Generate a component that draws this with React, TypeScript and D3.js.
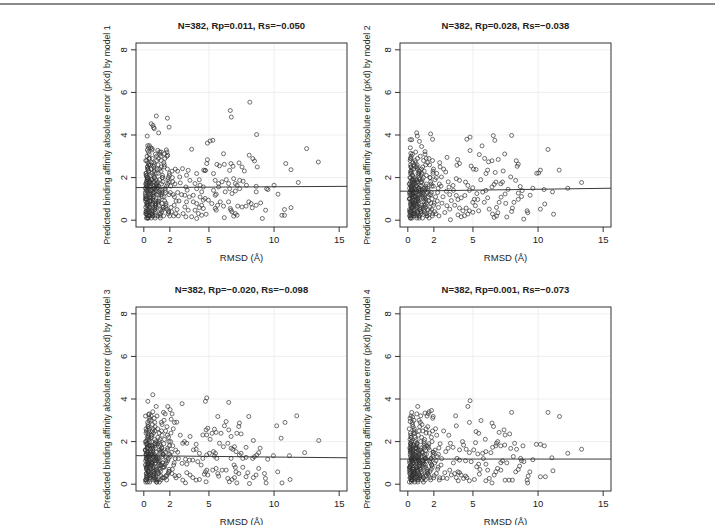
import React from "react";
import * as d3 from "d3";

// axis ticks and panel titles
const xTicks = [0, 2, 5, 10, 15];
const yTicks = [0, 2, 4, 6, 8];
const gridX = [5, 10];
const gridY = [2, 4, 6, 8];
const titles = [
  "N=382, Rp=0.011, Rs=\u22120.050",
  "N=382, Rp=0.028, Rs=\u22120.038",
  "N=382, Rp=\u22120.020, Rs=\u22120.098",
  "N=382, Rp=0.001, Rs=\u22120.073",
];
// fitted line
const fitIntercept = [1.532, 1.365, 1.336, 1.18];
const fitSlope = [0.0037, 0.0087, -0.0062, 0];

// dense cluster of low-RMSD poses, shared by all four models
const clusterRmsd = [
  0.12, 0.18, 0.21, 0.25, 0.31, 0.15, 0.22, 0.28, 0.35, 0.41,
  0.19, 0.24, 0.33, 0.45, 0.14, 0.27, 0.38, 0.2, 0.3, 0.47,
  0.16, 0.23, 0.29, 0.36, 0.43, 0.11, 0.26, 0.32, 0.39, 0.48,
  0.17, 0.21, 0.34, 0.42, 0.13, 0.25, 0.37, 0.44, 0.19, 0.28,
  0.22, 0.31, 0.46, 0.15, 0.24, 0.35, 0.4, 0.18, 0.27, 0.33,
  0.12, 0.2, 0.29, 0.38, 0.49, 0.16, 0.23, 0.32, 0.41, 0.26,
  0.14, 0.3, 0.36, 0.44, 0.21, 0.19, 0.34, 0.47, 0.25, 0.39,
  0.13, 0.22, 0.28, 0.43, 0.17, 0.31, 0.37, 0.24, 0.45, 0.2,
  0.15, 0.27, 0.35, 0.42, 0.18, 0.29, 0.33, 0.4, 0.23, 0.48,
  0.52, 0.58, 0.63, 0.71, 0.77, 0.84, 0.91, 0.97, 0.55, 0.6,
  0.66, 0.73, 0.8, 0.88, 0.94, 0.53, 0.62, 0.69, 0.75, 0.82,
  0.9, 0.99, 0.57, 0.64, 0.7, 0.78, 0.86, 0.93, 0.51, 0.59,
  0.67, 0.74, 0.81, 0.89, 0.96, 0.54, 0.61, 0.68, 0.76, 0.83,
  0.92, 0.56, 0.65, 0.72, 0.79, 0.87, 0.95, 0.5, 0.63, 0.7,
  0.77, 0.85, 0.98, 0.58, 0.66, 0.74, 0.82, 0.9, 0.53, 0.61,
  0.69, 0.78, 0.86, 0.94, 0.57, 0.65, 0.72, 0.8, 0.88, 0.96,
  1.02, 1.08, 1.15, 1.21, 1.28, 1.35, 1.42, 1.48, 1.05, 1.12,
  1.18, 1.25, 1.32, 1.39, 1.45, 1.01, 1.09, 1.16, 1.23, 1.3,
  1.37, 1.44, 1.06, 1.13, 1.2, 1.27, 1.34, 1.41, 1.49, 1.04,
  1.11, 1.19, 1.26, 1.33, 1.4, 1.47, 1.07, 1.14, 1.22, 1.29,
  1.36, 1.43, 1.1, 1.24, 1.38,
  1.52, 1.58, 1.65, 1.71, 1.78, 1.84, 1.91, 1.97, 1.55, 1.62,
  1.68, 1.75, 1.81, 1.88, 1.94, 1.53, 1.6, 1.67, 1.73, 1.8,
  1.86, 1.93, 1.99, 1.57, 1.64, 1.7, 1.77, 1.83, 1.9, 1.96,
  2.03, 2.09, 2.16, 2.22, 2.29, 2.35, 2.42, 2.48, 2.06, 2.13,
  2.19, 2.26, 2.33, 2.39, 2.45,
];

const clusterErr1 = [
  1.2, 0.4, 2.1, 1.6, 0.1, 2.8, 1.0, 0.7, 1.9, 3.1,
  0.3, 1.4, 2.4, 0.9, 1.7, 0.2, 2.6, 1.1, 0.5, 1.8,
  2.2, 0.8, 1.3, 3.4, 0.6, 1.5, 2.0, 0.1, 2.9, 1.2,
  0.4, 1.6, 2.3, 0.9, 1.0, 3.0, 0.2, 1.8, 1.4, 2.5,
  0.7, 2.7, 1.1, 0.3, 1.9, 1.5, 0.5, 2.1, 3.3, 0.8,
  1.3, 0.1, 2.4, 1.7, 0.6, 1.0, 2.8, 0.4, 1.6, 2.0,
  0.9, 3.5, 1.2, 0.2, 1.8, 2.2, 0.7, 1.4, 0.3, 2.6,
  1.1, 0.5, 1.9, 2.9, 1.5, 0.1, 2.3, 0.8, 1.3, 1.7,
  0.6, 2.0, 3.2, 0.4, 1.0, 2.5, 1.4, 0.2, 1.8, 0.9,
  1.6, 0.3, 2.2, 1.1, 2.7, 0.6, 1.4, 3.0, 0.9, 1.9,
  0.2, 1.3, 2.4, 0.7, 1.7, 3.4, 0.4, 1.0, 2.1, 1.5,
  0.8, 2.8, 0.1, 1.8, 1.2, 2.3, 0.5, 1.6, 2.6, 0.3,
  1.4, 0.9, 2.0, 3.1, 0.6, 1.1, 1.9, 0.2, 2.5, 1.3,
  0.7, 1.7, 2.9, 0.4, 1.5, 0.1, 2.2, 1.0, 3.3, 0.8,
  1.8, 0.5, 1.2, 2.4, 0.3, 1.6, 2.0, 0.9, 1.4, 2.7,
  0.6, 1.1, 0.2, 1.9, 2.1, 0.7, 1.3, 2.6, 0.4, 1.5,
  2.4, 0.8, 1.6, 3.2, 0.3, 1.2, 2.0, 0.6, 1.8, 2.9,
  1.0, 0.2, 2.3, 1.4, 0.5, 1.7, 2.6, 0.9, 1.3, 3.0,
  0.4, 2.1, 1.5, 0.7, 1.9, 0.1, 2.5, 1.1, 0.6, 1.6,
  2.2, 0.3, 1.4, 2.8, 0.8, 1.8, 0.2, 1.2, 2.4, 0.5,
  1.7, 2.0, 0.9, 3.1, 1.3,
  0.2, 2.6, 1.4, 0.7, 3.2, 1.9, 0.4, 2.2, 1.1, 2.9,
  0.6, 1.6, 2.4, 0.3, 1.8, 2.7, 0.9, 1.3, 3.3, 0.5,
  2.0, 1.2, 0.2, 2.5, 1.5, 0.8, 3.0, 1.7, 0.4, 2.1,
  1.3, 0.6, 2.3, 1.8, 0.2, 1.1, 2.4, 0.9, 1.6, 0.4,
  2.0, 1.2, 0.7, 1.7, 0.3,
];

const clusterErr2 = [
  1.0, 0.3, 1.8, 2.5, 0.6, 1.3, 0.1, 2.2, 1.6, 0.8,
  2.9, 0.4, 1.1, 1.9, 0.2, 1.5, 2.7, 0.7, 1.2, 0.5,
  2.0, 1.4, 0.9, 3.1, 0.3, 1.7, 2.3, 0.6, 1.0, 1.8,
  0.2, 2.6, 1.3, 0.8, 1.5, 0.4, 2.1, 1.1, 3.4, 0.7,
  1.6, 0.1, 2.4, 1.2, 0.5, 1.9, 0.9, 2.8, 1.4, 0.3,
  1.0, 2.2, 0.6, 1.7, 0.2, 1.3, 2.5, 0.8, 1.5, 3.0,
  0.4, 1.1, 1.8, 0.7, 2.0, 0.1, 1.4, 2.6, 0.9, 1.2,
  0.5, 2.3, 1.6, 0.3, 1.0, 1.9, 0.6, 2.9, 1.3, 0.8,
  1.7, 0.2, 2.1, 1.1, 0.4, 1.5, 2.4, 0.7, 1.2, 0.3,
  1.4, 2.7, 0.5, 1.0, 1.8, 0.2, 2.3, 1.3, 0.8, 3.2,
  1.6, 0.4, 1.1, 2.0, 0.6, 1.5, 2.5, 0.1, 1.2, 0.9,
  1.9, 0.3, 2.8, 1.4, 0.7, 1.0, 2.2, 0.5, 1.7, 1.3,
  0.2, 2.4, 0.8, 1.5, 3.0, 0.4, 1.1, 1.9, 0.6, 2.1,
  1.2, 0.3, 1.6, 2.6, 0.9, 0.1, 1.4, 2.0, 0.7, 1.8,
  1.0, 2.3, 0.4, 1.3, 0.8, 2.9, 1.5, 0.2, 1.1, 1.7,
  0.6, 2.2, 1.2, 0.5, 1.9, 0.9, 2.5, 0.3, 1.4, 1.6,
  2.1, 0.7, 1.3, 2.8, 0.4, 1.0, 1.7, 0.2, 2.4, 1.2,
  0.6, 1.5, 3.1, 0.9, 0.3, 1.8, 2.2, 1.1, 0.5, 1.4,
  2.6, 0.8, 1.6, 0.1, 2.0, 1.2, 0.7, 2.9, 1.3, 0.4,
  1.9, 1.0, 2.3, 0.6, 1.5, 0.2, 1.8, 2.5, 0.9, 1.1,
  0.3, 2.1, 1.4, 0.7, 1.6,
  2.7, 0.5, 1.2, 2.0, 0.8, 1.6, 0.3, 2.4, 1.1, 2.9,
  0.6, 1.8, 1.3, 0.2, 2.2, 1.5, 0.9, 2.6, 0.4, 1.7,
  1.0, 2.3, 0.7, 1.4, 0.1, 2.0, 1.2, 0.5, 2.8, 1.6,
  0.8, 1.9, 0.3, 2.2, 1.3, 0.6, 1.7, 2.5, 0.4, 1.1,
  2.0, 0.9, 1.5, 0.2, 2.7,
];

const clusterErr3 = [
  0.9, 2.0, 0.4, 1.5, 2.7, 0.2, 1.2, 1.8, 0.6, 3.0,
  1.4, 0.8, 2.3, 0.1, 1.1, 1.7, 0.5, 2.5, 1.3, 0.3,
  1.9, 0.7, 2.9, 1.0, 0.4, 1.6, 2.2, 0.9, 1.2, 0.2,
  2.6, 1.4, 0.6, 1.8, 3.2, 0.3, 1.1, 2.0, 0.8, 1.5,
  0.5, 2.4, 1.3, 0.1, 1.7, 0.9, 2.1, 1.2, 0.4, 2.8,
  1.6, 0.7, 1.0, 2.5, 0.3, 1.4, 1.9, 0.6, 3.3, 1.1,
  0.2, 1.7, 2.2, 0.8, 1.3, 0.5, 2.7, 1.0, 1.5, 0.4,
  2.0, 1.2, 0.1, 1.8, 2.4, 0.7, 1.4, 0.9, 3.1, 0.3,
  1.6, 2.1, 0.6, 1.1, 0.2, 1.9, 1.3, 2.6, 0.8, 1.5,
  0.4, 2.3, 1.0, 1.7, 0.6, 2.9, 1.2, 0.2, 1.8, 1.4,
  2.5, 0.7, 1.1, 0.3, 2.0, 1.6, 0.9, 3.4, 1.3, 0.5,
  1.9, 0.1, 2.2, 1.0, 1.5, 0.8, 2.7, 0.4, 1.2, 1.7,
  0.6, 2.4, 1.4, 0.2, 1.1, 3.0, 0.9, 1.6, 0.5, 2.1,
  1.3, 0.7, 1.8, 2.6, 0.3, 1.0, 1.5, 0.8, 2.3, 1.2,
  0.4, 1.9, 0.1, 1.4, 2.8, 0.6, 1.1, 1.7, 0.9, 2.0,
  1.3, 0.2, 2.5, 0.7, 1.5, 1.0, 0.4, 3.1, 1.8, 0.8,
  1.2, 2.2, 0.5, 1.6, 0.9, 2.9, 0.3, 1.4, 1.9, 0.7,
  2.4, 1.1, 0.2, 1.7, 1.3, 3.2, 0.6, 1.0, 2.1, 0.4,
  1.5, 0.8, 2.6, 1.2, 0.1, 1.8, 0.9, 2.3, 1.4, 0.5,
  1.1, 2.0, 0.7, 1.6, 2.8, 0.3, 1.3, 0.9, 1.9, 0.6,
  2.5, 1.0, 0.2, 1.5, 1.7,
  0.8, 2.1, 1.3, 0.4, 2.7, 1.1, 0.6, 1.8, 3.0, 0.9,
  1.5, 0.2, 2.3, 1.2, 0.7, 1.9, 0.3, 2.5, 1.0, 1.6,
  0.5, 2.0, 1.4, 0.8, 3.3, 1.1, 0.4, 1.7, 2.2, 0.6,
  1.3, 2.4, 0.5, 1.8, 0.9, 2.9, 1.2, 0.3, 2.0, 1.5,
  0.7, 2.6, 1.0, 0.4, 1.6,
];

const clusterErr4 = [
  0.7, 1.6, 0.3, 2.2, 1.1, 0.5, 1.8, 0.2, 2.9, 1.3,
  0.8, 1.5, 0.4, 2.4, 1.0, 0.1, 1.7, 0.6, 1.2, 3.0,
  0.3, 1.9, 0.9, 1.4, 0.5, 2.6, 1.1, 0.2, 1.6, 0.7,
  2.1, 1.3, 0.4, 1.8, 0.8, 3.2, 1.0, 0.6, 1.5, 0.2,
  2.3, 1.2, 0.5, 1.7, 0.9, 0.3, 2.7, 1.4, 0.7, 1.1,
  0.1, 1.9, 1.2, 0.4, 2.5, 0.8, 1.6, 0.3, 1.0, 2.0,
  0.6, 1.3, 2.8, 0.5, 1.7, 0.9, 0.2, 1.4, 2.2, 0.7,
  1.1, 0.4, 1.8, 1.2, 3.1, 0.6, 1.5, 0.3, 1.0, 2.4,
  0.8, 1.6, 0.2, 1.3, 0.5, 2.0, 1.1, 0.7, 1.9, 0.4,
  1.2, 0.3, 2.1, 0.8, 1.5, 0.5, 2.7, 1.0, 0.2, 1.7,
  1.3, 0.6, 2.3, 0.9, 1.4, 0.1, 1.8, 3.3, 0.7, 1.1,
  0.4, 1.6, 2.0, 0.8, 1.2, 0.3, 2.5, 1.0, 0.6, 1.5,
  1.9, 0.2, 1.3, 0.9, 2.9, 0.5, 1.1, 1.7, 0.4, 1.4,
  0.7, 2.2, 1.0, 0.3, 1.6, 1.2, 0.8, 2.6, 0.5, 1.8,
  0.1, 1.3, 2.0, 0.9, 1.5, 0.6, 1.1, 0.3, 2.4, 1.7,
  0.7, 1.2, 3.0, 0.4, 1.4, 0.8, 1.9, 0.2, 1.0, 1.6,
  1.3, 0.5, 2.5, 0.9, 1.7, 0.2, 1.1, 3.2, 0.6, 1.5,
  0.8, 2.0, 1.2, 0.4, 1.8, 0.7, 2.8, 1.0, 0.3, 1.4,
  1.6, 0.6, 2.2, 1.1, 0.1, 1.3, 0.9, 2.4, 0.5, 1.7,
  1.0, 0.3, 1.9, 1.2, 2.6, 0.7, 1.5, 0.4, 1.1, 2.1,
  0.8, 1.4, 0.2, 1.8, 1.2,
  0.6, 1.7, 2.4, 0.3, 1.2, 0.9, 3.1, 1.5, 0.5, 1.9,
  1.1, 0.2, 2.2, 0.8, 1.4, 2.7, 0.4, 1.6, 1.0, 0.7,
  2.0, 1.3, 0.3, 1.8, 3.4, 0.6, 1.2, 0.9, 2.5, 1.5,
  0.4, 1.6, 1.1, 2.3, 0.7, 1.4, 0.2, 1.9, 1.0, 2.6,
  0.5, 1.3, 0.8, 1.7, 0.3,
];

// individually readable points: [RMSD, absolute error]
const spread1 = [
  [0.26, 3.95], [0.57, 4.53], [0.7, 4.45], [0.75, 4.35], [0.8, 4.3], [0.96, 4.89], [1.14, 4.1],
  [1.81, 4.79], [1.94, 4.37], [0.43, 3.5], [0.64, 3.36], [1.07, 3.28], [1.33, 3.2], [1.59, 3.12],
  [1.84, 3.05],
  [2.97, 2.42], [2.76, 2.03], [3.02, 0.31], [3.15, 1.17], [3.15, 0.62], [3.23, 1.56], [3.23, 0.16],
  [3.28, 2.11], [3.28, 0.86], [3.33, 1.41], [3.41, 2.34], [3.41, 0.47], [3.49, 1.09], [2.6, 1.3],
  [2.7, 0.9], [2.55, 0.5], [2.65, 0.2], [2.8, 1.75], [2.9, 1.2], [2.6, 2.3],
  [3.54, 1.87], [3.67, 3.33], [3.67, 0.16], [3.8, 1.17], [3.8, 0.86], [3.93, 1.72], [3.93, 0.47],
  [4.06, 2.19], [4.06, 1.48], [4.06, 0.78], [4.06, 0.08], [4.19, 0.31], [4.26, 1.9], [4.26, 0.59],
  [4.32, 1.64], [4.32, 1.09], [4.44, 1.33], [4.44, 0.7], [4.44, 0.23], [4.57, 1.56], [4.57, 0.94],
  [4.57, 0.55], [4.6, 2.35], [4.7, 2.33], [4.7, 1.02], [4.73, 2.34], [4.78, 0.28], [4.83, 2.66],
  [4.88, 2.84], [4.88, 3.62], [4.96, 0.94],
  [5.09, 3.72], [5.22, 0.78], [5.3, 3.75], [5.35, 2.19], [5.35, 1.4], [5.48, 1.87], [5.48, 1.17],
  [5.48, 0.55], [5.56, 1.22], [5.56, 0.47], [5.61, 2.62], [5.66, 0.7], [5.74, 1.72], [5.74, 1.56],
  [5.81, 2.55], [5.87, 0.86], [6.0, 1.8], [6.12, 3.12], [6.12, 0.66], [6.18, 2.62], [6.18, 0.12],
  [6.25, 1.33], [6.33, 1.9], [6.51, 1.72], [6.51, 0.86], [6.59, 2.34], [6.59, 1.48], [6.64, 0.55],
  [6.64, 5.15], [6.69, 2.66], [6.69, 0.47], [6.72, 4.84], [6.77, 1.25], [6.77, 0.39], [6.85, 2.53],
  [6.9, 1.95], [6.9, 0.19],
  [7.03, 1.72], [7.03, 1.37], [7.03, 0.31], [7.16, 1.64], [7.16, 0.23], [7.21, 0.66], [7.31, 2.69],
  [7.36, 1.87], [7.36, 1.48], [7.54, 2.5], [7.54, 0.62], [7.62, 1.83], [7.72, 2.31], [7.85, 0.66],
  [7.88, 1.64], [8.06, 0.86], [8.09, 3.05], [8.14, 5.54], [8.24, 0.78], [8.32, 0.58], [8.37, 2.89],
  [8.5, 2.78], [8.63, 1.59], [8.63, 1.33], [8.63, 0.7], [8.66, 4.02], [8.71, 2.5], [8.97, 0.81],
  [9.1, 0.08], [9.35, 0.47], [9.43, 1.48], [9.53, 1.44], [10.0, 1.64], [10.3, 1.22], [10.6, 0.23],
  [10.8, 0.5], [10.8, 0.23], [10.9, 2.66], [11.3, 2.37], [11.3, 0.59], [11.86, 1.77], [12.5, 3.36],
  [13.4, 2.73],
];

const spread2 = [
  [0.68, 4.1], [0.73, 3.95], [1.75, 4.05], [1.9, 3.8], [0.18, 3.78], [0.3, 3.78], [0.89, 3.7],
  [1.06, 3.46], [1.32, 3.22], [0.23, 3.14],
  [4.53, 3.8], [4.78, 3.9], [6.56, 3.97], [6.68, 3.75], [7.97, 3.98], [5.7, 3.49], [5.49, 3.08],
  [4.78, 3.27], [7.44, 3.11], [3.82, 2.85], [3.97, 2.66], [3.77, 2.58], [4.86, 2.54], [5.04, 2.4],
  [5.24, 2.38], [6.13, 2.35], [6.0, 2.19], [6.2, 2.74], [6.46, 2.79], [6.94, 2.85], [6.71, 2.24],
  [7.32, 2.31], [8.33, 2.79], [8.48, 2.63], [8.4, 2.53], [10.05, 2.22], [10.18, 2.35], [10.76, 3.32],
  [11.62, 2.35], [13.34, 1.77], [12.28, 1.5], [10.46, 1.44], [11.11, 1.33], [10.51, 0.76],
  [10.18, 0.52], [11.19, 0.28], [9.16, 0.44], [9.21, 0.35], [9.39, 1.17], [8.78, 1.39], [8.63, 1.58],
  [8.48, 1.27], [8.73, 1.11], [8.48, 0.98], [8.15, 0.84], [8.03, 0.57], [7.97, 0.41], [8.28, 1.87],
  [7.9, 2.03], [7.47, 1.23], [7.16, 1.08], [7.01, 0.84], [7.52, 0.79], [6.81, 0.6], [6.91, 0.35],
  [6.81, 0.2], [6.63, 0.13], [6.5, 0.29], [6.63, 1.68], [6.76, 1.79], [7.14, 1.71], [7.27, 1.79],
  [6.46, 1.56], [6.0, 1.4], [5.75, 1.32], [6.13, 1.05], [5.87, 0.84], [6.25, 0.52], [5.37, 0.97],
  [5.11, 0.98], [4.99, 0.84], [5.19, 0.68], [5.44, 0.44], [4.99, 0.37], [4.73, 0.44], [4.48, 0.57],
  [4.61, 0.29], [4.35, 0.21], [4.1, 0.16], [3.85, 0.25], [4.23, 0.44], [3.97, 0.57], [3.85, 0.97],
  [4.1, 1.05], [3.72, 1.16], [4.38, 1.16], [4.73, 1.4], [4.99, 1.52], [4.61, 1.63], [4.43, 1.79],
  [3.97, 1.87], [3.72, 1.95], [3.47, 1.63], [3.16, 1.55], [2.96, 1.36], [3.22, 1.2], [3.34, 0.92],
  [3.0, 0.68], [3.22, 0.52], [2.84, 0.36], [3.27, 0.02], [2.91, 2.26], [3.01, 2.95], [2.58, 2.03],
  [2.7, 1.1], [2.62, 0.8], [2.75, 2.4], [3.1, 1.8], [2.55, 1.6], [5.6, 1.9], [5.3, 1.25], [5.9, 2.9],
  [7.7, 1.45], [9.6, 1.5], [9.9, 2.2], [8.9, 0.05], [7.6, 0.15], [3.5, 1.4], [3.6, 0.7],
];

const spread3 = [
  [0.69, 4.2], [0.31, 3.89], [0.95, 3.65], [1.84, 3.65], [2.02, 3.5], [2.17, 3.3], [1.51, 3.37],
  [0.38, 3.26], [0.56, 3.21], [2.1, 3.05],
  [2.53, 2.91], [2.94, 3.78], [4.02, 1.87], [3.81, 1.61], [4.02, 1.64], [2.99, 1.92], [3.12, 2.0],
  [3.3, 1.92], [3.55, 2.24], [4.73, 3.89], [4.83, 4.05], [6.52, 3.84], [5.68, 3.18], [8.06, 3.18],
  [11.74, 3.21], [10.84, 2.9], [10.2, 2.74], [10.54, 2.16], [13.43, 2.05], [12.35, 1.48],
  [11.18, 1.34], [9.95, 1.34], [9.51, 1.17], [8.93, 1.69], [8.82, 1.48], [8.67, 1.37], [8.41, 2.05],
  [7.85, 1.73], [7.34, 1.37], [6.7, 2.24], [6.52, 2.55], [6.32, 2.94], [6.19, 2.74], [5.93, 2.39],
  [7.14, 2.39], [7.34, 2.87], [7.47, 2.36], [7.29, 2.71], [5.81, 1.92], [6.11, 1.76], [6.45, 1.92],
  [6.7, 1.69], [6.96, 1.76], [6.83, 1.64], [7.08, 1.53], [7.47, 1.45], [5.24, 2.39], [5.55, 2.43],
  [4.83, 2.31], [4.53, 2.31], [4.91, 2.63], [4.78, 2.55], [5.09, 2.11], [5.42, 2.58], [4.83, 1.37],
  [5.04, 1.45], [5.35, 1.53], [5.42, 1.32], [5.6, 1.21], [5.5, 1.45], [4.27, 1.45], [4.53, 1.21],
  [4.14, 1.06], [3.76, 1.13], [3.5, 1.13], [3.2, 1.17], [3.3, 0.94], [2.94, 0.98], [4.4, 0.9],
  [4.73, 0.58], [4.83, 0.66], [4.65, 0.47], [4.91, 0.43], [4.78, 0.11], [4.27, 0.22], [4.02, 0.19],
  [3.76, 0.31], [3.55, 0.43], [3.3, 0.54], [2.99, 0.19], [3.2, 0.06], [5.29, 0.66], [5.68, 0.5],
  [5.75, 0.38], [5.55, 0.74], [6.01, 0.66], [6.32, 0.66], [6.45, 0.27], [6.78, 0.22], [6.96, 0.31],
  [7.08, 0.58], [7.03, 0.79], [6.93, 0.9], [7.29, 0.5], [6.57, 0.11], [7.14, 0.06], [7.6, 0.79],
  [7.98, 0.54], [7.85, 0.35], [8.11, 0.03], [8.41, 0.31], [8.62, 0.43], [8.82, 0.74], [9.26, 0.5],
  [9.34, 0.27], [9.39, 0.06], [10.28, 0.58], [10.61, 0.06], [11.23, 0.22], [8.36, 1.21], [8.49, 1.29],
  [7.85, 1.26], [7.6, 1.21], [6.7, 1.21], [2.6, 1.5], [2.7, 0.4], [2.8, 2.3], [2.65, 1.2],
];

const spread4 = [
  [0.76, 3.65], [0.3, 3.37], [0.99, 3.21], [1.32, 3.34], [1.57, 3.31], [1.82, 3.46], [1.95, 3.18],
  [0.38, 3.15], [0.18, 2.94],
  [4.78, 3.92], [4.61, 3.65], [3.72, 2.74], [3.67, 3.21], [4.73, 2.9], [5.62, 2.99], [5.95, 2.11],
  [5.24, 2.47], [5.44, 2.39], [6.46, 2.87], [6.58, 2.71], [7.01, 2.43], [7.39, 2.55], [7.47, 2.31],
  [7.82, 2.36], [7.97, 3.37], [10.76, 3.37], [11.65, 3.18], [8.2, 1.92], [8.35, 1.64], [8.84, 1.8],
  [7.9, 1.68], [7.44, 1.84], [7.14, 1.8], [6.81, 1.92], [6.76, 1.8], [6.51, 1.73], [6.38, 1.48],
  [5.99, 1.53], [5.75, 1.45], [5.37, 1.42], [5.06, 1.61], [4.73, 1.48], [4.48, 1.64], [4.28, 1.84],
  [3.97, 1.61], [3.47, 1.73], [3.27, 1.92], [3.09, 1.69], [2.91, 1.53], [3.77, 1.21], [3.97, 1.13],
  [4.43, 1.1], [4.86, 1.06], [5.29, 0.82], [5.44, 0.94], [5.54, 0.69], [5.49, 0.47], [5.11, 0.22],
  [4.73, 0.16], [4.53, 0.31], [4.43, 0.38], [4.28, 0.27], [4.1, 0.43], [3.97, 0.54], [3.85, 0.58],
  [3.72, 0.31], [3.87, 0.16], [3.6, 0.5], [3.34, 0.43], [3.22, 0.66], [3.01, 0.27], [2.84, 0.54],
  [6.0, 0.94], [6.13, 0.66], [6.25, 0.27], [5.99, 0.16], [6.46, 0.06], [6.63, 0.43], [6.76, 0.58],
  [6.89, 0.74], [7.14, 0.66], [7.27, 1.1], [7.14, 1.01], [7.47, 0.19], [7.77, 0.19], [8.03, 0.19],
  [8.28, 0.58], [8.48, 0.69], [8.58, 0.85], [8.73, 1.1], [8.66, 1.21], [8.91, 1.06], [9.37, 0.58],
  [9.24, 0.38], [9.16, 0.19], [9.2, 0.06], [9.87, 1.87], [10.18, 1.87], [10.48, 1.8], [10.18, 0.35],
  [10.56, 0.35], [11.14, 0.63], [11.06, 1.24], [12.28, 1.45], [13.34, 1.64],
  [2.6, 1.2], [2.7, 0.3], [2.75, 2.5], [2.55, 0.9], [3.15, 2.3], [5.8, 1.2], [6.9, 2.0], [8.1, 1.3],
  [7.6, 1.0], [5.2, 1.95], [4.2, 2.0], [3.5, 1.0], [9.6, 1.15],
];

const clusterErrs = [clusterErr1, clusterErr2, clusterErr3, clusterErr4];
const spreads = [spread1, spread2, spread3, spread4];

const W = 715, H = 525;
const font = "'Liberation Sans', Arial, Helvetica, sans-serif";
const boxW = 211, boxH = 184;
const panelPos = [
  { left: 136, top: 43, labelX: 110 },
  { left: 400, top: 43, labelX: 370 },
  { left: 136, top: 307, labelX: 110 },
  { left: 400, top: 307, labelX: 370 },
];

function Panel({ idx }: { idx: number }) {
  const { left, top, labelX } = panelPos[idx];
  const bottom = top + boxH;
  const x = d3.scaleLinear().domain([-0.6, 15.6]).range([left, left + boxW]);
  const y = d3.scaleLinear().domain([-0.32, 8.32]).range([bottom, top]);
  const points = clusterRmsd
    .map((r, i) => [r, clusterErrs[idx][i]])
    .concat(spreads[idx]);
  const [x0, x1] = x.domain();
  const fit = (v: number) => fitIntercept[idx] + fitSlope[idx] * v;
  const fitPath = d3.line<number>().x(v => x(v)).y(v => y(fit(v)))([x0, x1]);
  const cx = left + boxW / 2;
  const cy = top + boxH / 2;

  return (
    <g>
      {gridX.map(t => (
        <line key={"gx" + t} x1={x(t)} x2={x(t)} y1={top} y2={bottom} stroke="#efefef" strokeWidth={1} />
      ))}
      {gridY.map(t => (
        <line key={"gy" + t} x1={left} x2={left + boxW} y1={y(t)} y2={y(t)} stroke="#efefef" strokeWidth={1} />
      ))}
      {points.map((p, i) => (
        <circle key={i} cx={x(p[0])} cy={y(p[1])} r={2} fill="none" stroke="#333" strokeWidth={0.7} />
      ))}
      <path d={fitPath || ""} stroke="#222" strokeWidth={0.9} fill="none" />
      <rect x={left} y={top} width={boxW} height={boxH} fill="none" stroke="#333" strokeWidth={1} />

      {xTicks.map(t => (
        <g key={"xt" + t}>
          <line x1={x(t)} x2={x(t)} y1={bottom} y2={bottom + 5} stroke="#333" />
          <text x={x(t)} y={bottom + 15.5} textAnchor="middle" fontSize={9.5} fill="#222">{t}</text>
        </g>
      ))}
      {yTicks.map(t => (
        <g key={"yt" + t}>
          <line x1={left - 5} x2={left} y1={y(t)} y2={y(t)} stroke="#333" />
          <text transform={`translate(${left - 9.5},${y(t)}) rotate(-90)`} textAnchor="middle" fontSize={9.5} fill="#222">{t}</text>
        </g>
      ))}

      <text x={cx} y={top - 14.5} textAnchor="middle" fontSize={9.5} fontWeight="bold" fill="#222">{titles[idx]}</text>
      <text x={cx} y={bottom + 33.5} textAnchor="middle" fontSize={9.5} fill="#222">RMSD (Å)</text>
      <text transform={`translate(${labelX},${cy}) rotate(-90)`} textAnchor="middle" fontSize={8.7} fill="#222">
        {`Predicted binding affinity absolute error (pKd) by model ${idx + 1}`}
      </text>
    </g>
  );
}

export default function App() {
  return (
    <svg
      width={W}
      height={H}
      viewBox={`0 0 ${W} ${H}`}
      style={{ position: "absolute", left: 0, top: 0, background: "#fff", fontFamily: font }}
    >
      <line x1={0} x2={W} y1={4} y2={4} stroke="#8a8a8a" strokeWidth={1.8} />
      {[0, 1, 2, 3].map(i => <Panel key={i} idx={i} />)}
    </svg>
  );
}
